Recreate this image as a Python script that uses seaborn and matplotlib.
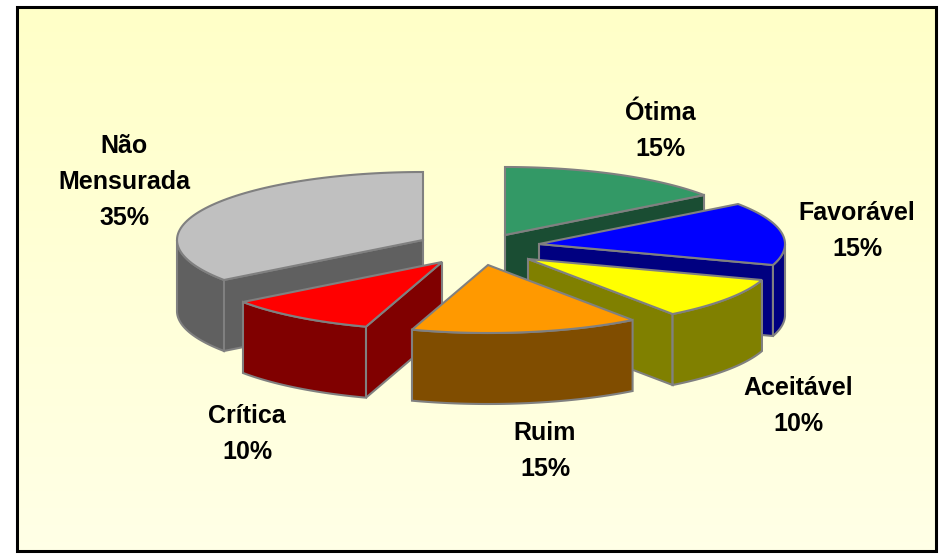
"""
Exploded 3D style pie chart of the condition classes.
"""
import numpy as np
import matplotlib
matplotlib.use('Agg')
import matplotlib.pyplot as plt
from matplotlib.patches import Rectangle
import seaborn as sns

# data
categories = ['Ótima', 'Favorável', 'Aceitável', 'Ruim', 'Crítica', 'Não\nMensurada']
shares = [15, 15, 10, 15, 10, 35]

# styles
top_colors = ['#339966', '#0000FF', '#FFFF00', '#FF9900', '#FF0000', '#C0C0C0']
side_colors = ['#1A4D33', '#000080', '#808000', '#804D00', '#800000', '#606060']
EDGE = '#808080'

# layout, in pixels of the 943x559 picture
RX, RY, DEPTH = 246, 68, 71
centers = [(505, 235), (539, 244), (528, 259), (488, 265), (442, 262), (423, 240)]
label_pos = [(660, 131), (857, 231), (798, 406), (545, 451), (247, 434), (124, 182)]
draw_order = [0, 5, 1, 2, 4, 3]

sns.set_style('white')
plt.rcParams['font.family'] = ['Liberation Sans', 'DejaVu Sans']


def rim(center, a0, a1):
    """Points on the ellipse, angles clockwise from 12 o'clock in degrees."""
    t = np.radians(np.linspace(a0, a1, 80))
    return center[0] + RX * np.sin(t), center[1] - RY * np.cos(t)


def faces_down(angle):
    return np.cos(np.radians(angle)) < -1e-6


def draw_slice(ax, center, a0, a1, top, side):
    cx, cy = center
    style = dict(facecolor=side, edgecolor=EDGE, linewidth=1.5, joinstyle='miter')

    # radial walls that look towards the viewer
    for angle, normal in ((a0, a0 - 90), (a1, a1 + 90)):
        if faces_down(normal):
            ex, ey = rim(center, angle, angle)
            ax.fill([cx, ex[0], ex[0], cx], [cy, ey[0], ey[0] + DEPTH, cy + DEPTH], **style)

    # outer wall, front half of the ellipse only
    lo, hi = max(a0, 90), min(a1, 270)
    if lo < hi:
        x, y = rim(center, lo, hi)
        ax.fill(np.r_[x, x[::-1]], np.r_[y, y[::-1] + DEPTH], **style)

    x, y = rim(center, a0, a1)
    ax.fill(np.r_[cx, x], np.r_[cy, y], facecolor=top, edgecolor=EDGE,
            linewidth=1.5, joinstyle='miter')


fig = plt.figure(figsize=(9.43, 5.59), dpi=100, facecolor='white')
ax = fig.add_axes([0, 0, 1, 1])
ax.axis('off')

# panel with its soft vertical gradient
gradient = sns.blend_palette(['#FFFFC8', '#FFFFE6'], 64)
ax.imshow(np.array(gradient)[:, None, :], extent=(17, 936, 551, 7), aspect='auto', zorder=0)
ax.set_xlim(0, 943)
ax.set_ylim(559, 0)
ax.add_patch(Rectangle((16.5, 6.5), 919.5, 544.5, fill=False, edgecolor='black', linewidth=2.2, zorder=1))

edges = np.r_[0, np.cumsum(shares)] / np.sum(shares) * 360

for i in draw_order:
    draw_slice(ax, centers[i], edges[i], edges[i + 1], top_colors[i], side_colors[i])

for name, share, (x, y) in zip(categories, shares, label_pos):
    ax.text(x, y, f'{name}\n{share}%', ha='center', va='center', fontsize=18,
            fontweight='bold', color='black', linespacing=1.62)

fig.savefig('out.png', dpi=100)
